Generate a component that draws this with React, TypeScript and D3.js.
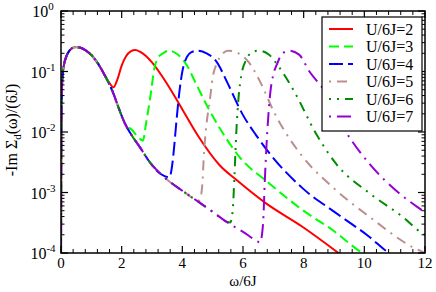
import React from 'react';
import * as d3 from 'd3';

const W = 436, H = 292;
const X0 = 61, X1 = 425, Y0 = 11, Y1 = 253;

// shared low-frequency part (all U)
const headW = [0, 0.01, 0.03, 0.06, 0.1, 0.18, 0.28, 0.4, 0.5, 0.62, 0.8, 1.0, 1.2, 1.45];
const headV = [0.00005, 0.008, 0.05, 0.095, 0.13, 0.18, 0.222, 0.248, 0.255, 0.249, 0.226, 0.187, 0.14, 0.085];
// shared decaying tail before each jump
const tailW = [1.7, 1.9, 2.1, 2.3, 2.6, 2.93, 3.3, 3.58, 4.0, 4.57, 5.0, 5.5, 6.0, 6.48];
const tailV = [0.0468, 0.0251, 0.0141, 0.00933, 0.00562, 0.00316, 0.002, 0.00151, 0.00107, 0.00068, 0.00048, 0.000316, 0.000224, 0.000155];

const u2W = [1.6, 1.73, 1.85, 2.0, 2.15, 2.3, 2.45, 2.6, 2.8, 3.0, 3.5, 3.91, 4.5, 5.23, 5.78, 6.76, 7.97, 9.2];
const u2V = [0.064, 0.055, 0.072, 0.125, 0.18, 0.215, 0.226, 0.213, 0.18, 0.141, 0.062, 0.0282, 0.0089, 0.00282, 0.00162, 0.00066, 0.000269, 0.0000955];

const u3W = [2.35, 2.55, 2.7, 2.8, 2.93, 3.09, 3.2, 3.36, 3.55, 3.85, 4.15, 4.47, 4.85, 5.25, 5.88, 6.87, 7.97, 8.95, 9.94, 10.1];
const u3V = [0.0107, 0.0081, 0.0072, 0.0135, 0.0339, 0.12, 0.17, 0.1995, 0.2213, 0.1905, 0.126, 0.06, 0.0251, 0.0112, 0.00389, 0.00141, 0.00051, 0.00024, 0.0001, 0.00009];

const u4W = [3.58, 3.65, 3.72, 3.8, 3.9, 4.0, 4.15, 4.3, 4.5, 4.8, 5.13, 5.5, 6.0, 6.43, 6.87, 7.97, 9.06, 10.16, 10.82, 11.0];
const u4V = [0.00178, 0.0025, 0.005, 0.0141, 0.0447, 0.1, 0.1738, 0.209, 0.2213, 0.1995, 0.1445, 0.063, 0.019, 0.0089, 0.00447, 0.00117, 0.00046, 0.000186, 0.0001, 0.000089];

const u5W = [4.57, 4.65, 4.72, 4.79, 4.9, 5.0, 5.15, 5.3, 5.5, 5.85, 6.18, 6.55, 7.05, 7.42, 7.97, 9.06, 10.16, 11.58, 12.0];
const u5V = [0.00074, 0.0012, 0.005, 0.0126, 0.0316, 0.079, 0.141, 0.19, 0.2213, 0.1995, 0.1445, 0.07, 0.02, 0.0095, 0.00389, 0.0011, 0.0004, 0.000126, 0.0001];

const u6W = [5.58, 5.66, 5.72, 5.78, 5.85, 5.95, 6.1, 6.25, 6.5, 6.85, 7.18, 7.7, 8.4, 9.06, 10.16, 11.25, 11.9, 12.0];
const u6V = [0.00032, 0.0005, 0.002, 0.01, 0.0355, 0.089, 0.155, 0.1995, 0.2213, 0.1905, 0.12, 0.0457, 0.00955, 0.00302, 0.00098, 0.0004, 0.000214, 0.0002];

const u7W = [6.56, 6.66, 6.72, 6.8, 6.9, 7.0, 7.12, 7.3, 7.53, 7.85, 8.19, 8.73, 9.39, 10.16, 11.14, 11.9, 12.0];
const u7V = [0.000148, 0.0003, 0.0016, 0.01, 0.0447, 0.089, 0.132, 0.1995, 0.2213, 0.19, 0.1, 0.045, 0.0102, 0.00302, 0.00098, 0.00051, 0.00047];

const labels = ['U/6J=2', 'U/6J=3', 'U/6J=4', 'U/6J=5', 'U/6J=6', 'U/6J=7'];
const colors = ['#ff0000', '#00ff00', '#0000ff', '#bc8f8f', '#008b00', '#9400d3'];
const dashes = ['none', '10,5', '14,5', '2,6,10,6', '2,6,2,6,10,6', '2,6,14,6'];
// how many tail points each series shares before its own branch
const tailCounts = [0, 3, 7, 9, 11, 14];
const ownW = [u2W, u3W, u4W, u5W, u6W, u7W];
const ownV = [u2V, u3V, u4V, u5V, u6V, u7V];

const xTicks = [0, 2, 4, 6, 8, 10, 12];
const yTickExps = [0, -1, -2, -3, -4];

const FONT = "'Liberation Serif', 'Times New Roman', serif";

export default function App() {
  const x = d3.scaleLinear().domain([0, 12]).range([X0, X1]);
  const y = d3.scaleLog().domain([1e-4, 1]).range([Y1, Y0]);
  const line = d3.line<[number, number]>()
    .x(d => x(d[0]))
    .y(d => y(d[1]))
    .curve(d3.curveMonotoneX);

  const series = ownW.map((w, i) => {
    const pts: [number, number][] = [];
    headW.forEach((hw, j) => pts.push([hw, headV[j]]));
    for (let j = 0; j < tailCounts[i]; j++) pts.push([tailW[j], tailV[j]]);
    w.forEach((ww, j) => pts.push([ww, ownV[i][j]]));
    return pts;
  });

  const minorX = d3.range(0, 12.001, 0.4).filter(v => Math.abs(v / 2 - Math.round(v / 2)) > 1e-6);
  const minorY: number[] = [];
  for (let e = -4; e < 0; e++) for (let m = 2; m <= 9; m++) minorY.push(m * Math.pow(10, e));

  const legX = 322, legY = 17, legW = 100, legH = 114;
  const rowY = (i: number) => 29 + i * 17.5;

  return (
    <svg width={W} height={H} style={{ position: 'absolute', left: 0, top: 0, background: '#fff' }} fontFamily={FONT}>
      <defs>
        <clipPath id="plotclip">
          <rect x={X0} y={Y0} width={X1 - X0} height={Y1 - Y0} />
        </clipPath>
      </defs>
      <rect x={0} y={0} width={W} height={H} fill="#fff" />
      <g clipPath="url(#plotclip)">
        {series.map((pts, i) => (
          <path key={i} d={line(pts) || ''} fill="none" stroke={colors[i]} strokeWidth={2}
            strokeDasharray={dashes[i]} />
        ))}
      </g>
      {/* frame */}
      <rect x={X0} y={Y0} width={X1 - X0} height={Y1 - Y0} fill="none" stroke="#000" strokeWidth={1.5} />
      {/* x ticks */}
      {xTicks.map(t => (
        <g key={'xt' + t}>
          <line x1={x(t)} x2={x(t)} y1={Y1} y2={Y1 - 7} stroke="#000" strokeWidth={1.2} />
          <line x1={x(t)} x2={x(t)} y1={Y0} y2={Y0 + 7} stroke="#000" strokeWidth={1.2} />
          <text x={x(t)} y={268} fontSize={15} textAnchor="middle">{t}</text>
        </g>
      ))}
      {minorX.map((t, k) => (
        <g key={'xm' + k}>
          <line x1={x(t)} x2={x(t)} y1={Y1} y2={Y1 - 4} stroke="#000" strokeWidth={1} />
          <line x1={x(t)} x2={x(t)} y1={Y0} y2={Y0 + 4} stroke="#000" strokeWidth={1} />
        </g>
      ))}
      {/* y ticks */}
      {yTickExps.map(e => (
        <g key={'yt' + e}>
          <line x1={X0} x2={X0 + 7} y1={y(Math.pow(10, e))} y2={y(Math.pow(10, e))} stroke="#000" strokeWidth={1.2} />
          <line x1={X1} x2={X1 - 7} y1={y(Math.pow(10, e))} y2={y(Math.pow(10, e))} stroke="#000" strokeWidth={1.2} />
          <text x={43} y={y(Math.pow(10, e)) + 6} fontSize={16} textAnchor="middle">
            10<tspan dy={-7} fontSize={11}>{e}</tspan>
          </text>
        </g>
      ))}
      {minorY.map((v, k) => (
        <g key={'ym' + k}>
          <line x1={X0} x2={X0 + 3.5} y1={y(v)} y2={y(v)} stroke="#000" strokeWidth={1} />
          <line x1={X1} x2={X1 - 3.5} y1={y(v)} y2={y(v)} stroke="#000" strokeWidth={1} />
        </g>
      ))}
      {/* axis titles */}
      <text x={243} y={286} fontSize={15} textAnchor="middle">ω/6J</text>
      <text transform="translate(17,130) rotate(-90)" fontSize={16} textAnchor="middle">
        -Im Σ<tspan dy={4} fontSize={11}>d</tspan><tspan dy={-4}>(ω)/(6J)</tspan>
      </text>
      {/* legend */}
      <rect x={legX} y={legY} width={legW} height={legH} fill="#fff" stroke="#000" strokeWidth={1.2} />
      {labels.map((lab, i) => (
        <g key={'lg' + i}>
          <line x1={329} x2={353} y1={rowY(i)} y2={rowY(i)} stroke={colors[i]} strokeWidth={2} strokeDasharray={dashes[i]} />
          <text x={366} y={rowY(i) + 5.5} fontSize={16}>{lab}</text>
        </g>
      ))}
    </svg>
  );
}
